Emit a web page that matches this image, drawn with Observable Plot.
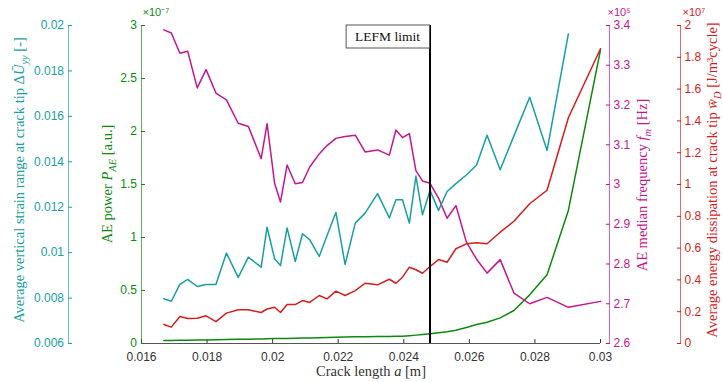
<!DOCTYPE html>
<html>
<head>
<meta charset="utf-8">
<script src="https://cdn.jsdelivr.net/npm/d3@7"></script>
<script src="https://cdn.jsdelivr.net/npm/@observablehq/plot@0.6"></script>
<style>
  html, body { margin: 0; padding: 0; background: #fff; }
  #chart { position: relative; width: 723px; height: 382px; }
  #chart svg { position: absolute; left: 0; top: 0; }
</style>
</head>
<body>
<div id="chart"></div>
<script>
// Crack length a [m] at each measurement
const crackLength = [0.01668, 0.01691, 0.01717, 0.01741, 0.01770, 0.01797, 0.01827, 0.01859, 0.01895, 0.01926,
  0.01965, 0.01983, 0.02006, 0.02024, 0.02044, 0.02069, 0.02091, 0.02113, 0.02142, 0.02166,
  0.02193, 0.02221, 0.02252, 0.02282, 0.02320, 0.02356, 0.02376, 0.02396, 0.02417, 0.02437,
  0.02457, 0.02480, 0.02506, 0.02532, 0.02559, 0.02591, 0.02622, 0.02654, 0.02694, 0.02736,
  0.02784, 0.02837, 0.02902, 0.03000];

// Average vertical strain range at crack tip [-]
const strainRange = [0.00797, 0.00786, 0.00860, 0.00882, 0.00851, 0.00860, 0.00860, 0.00998, 0.00891, 0.00980,
  0.00936, 0.01112, 0.00973, 0.00943, 0.01109, 0.00961, 0.01083, 0.01057, 0.00983, 0.01075,
  0.01177, 0.00948, 0.01130, 0.01174, 0.01260, 0.01153, 0.01233, 0.01233, 0.01130, 0.01337,
  0.01167, 0.01274, 0.01186, 0.01269, 0.01304, 0.01342, 0.01386, 0.01517, 0.01365, 0.01514,
  0.01684, 0.01450, 0.01963, null];

// AE power [a.u.], in units of 1e-7
const aePower = [0.028, 0.029, 0.030, 0.031, 0.032, 0.034, 0.035, 0.037, 0.039, 0.041,
  0.043, 0.044, 0.046, 0.047, 0.048, 0.050, 0.051, 0.053, 0.055, 0.057,
  0.059, 0.061, 0.063, 0.064, 0.066, 0.067, 0.068, 0.069, 0.074, 0.079,
  0.085, 0.092, 0.101, 0.110, 0.125, 0.151, 0.179, 0.201, 0.242, 0.311,
  0.459, 0.648, 1.255, 2.771];

// AE median frequency [Hz], in units of 1e5
const medianFreq = [3.389, 3.381, 3.330, 3.335, 3.243, 3.289, 3.230, 3.213, 3.154, 3.146,
  3.065, 3.153, 3.003, 2.956, 3.049, 3.002, 3.005, 3.044, 3.077, 3.098,
  3.116, 3.121, 3.124, 3.082, 3.087, 3.074, 3.137, 3.118, 3.128, 3.035,
  3.009, 3.003, 2.966, 2.915, 2.947, 2.855, 2.812, 2.777, 2.811, 2.727,
  2.700, 2.716, 2.691, 2.706];

// Average energy dissipation at crack tip [J/m^3 cycle], in units of 1e7
const energyDiss = [0.120, 0.103, 0.170, 0.157, 0.159, 0.174, 0.138, 0.191, 0.212, 0.212,
  0.195, 0.217, 0.228, 0.195, 0.245, 0.245, 0.270, 0.258, 0.302, 0.281,
  0.329, 0.302, 0.333, 0.379, 0.369, 0.404, 0.379, 0.417, 0.480, 0.464,
  0.442, 0.484, 0.528, 0.511, 0.596, 0.627, 0.633, 0.627, 0.700, 0.769,
  0.879, 0.964, 1.420, 1.854];

const xTicks = [0.016, 0.018, 0.02, 0.022, 0.024, 0.026, 0.028, 0.03];
const strainTicks = [0.006, 0.008, 0.01, 0.012, 0.014, 0.016, 0.018, 0.02];
const powerTicks = [0, 0.5, 1, 1.5, 2, 2.5, 3];
const freqTicks = [2.6, 2.7, 2.8, 2.9, 3, 3.1, 3.2, 3.3, 3.4];
const dissTicks = [0, 0.2, 0.4, 0.6, 0.8, 1, 1.2, 1.4, 1.6, 1.8, 2];

const lefmLimit = 0.0248;

const rows = crackLength.map((a, i) => ({
  a, strain: strainRange[i], power: aePower[i], freq: medianFreq[i], diss: energyDiss[i]
}));

const TEAL = "#17a0a0", GREEN = "#0d890d", MAGENTA = "#c7148f", RED = "#d61c1c";
const sans = "'Liberation Sans', Arial, sans-serif";
const serif = "'Liberation Serif', 'Times New Roman', serif";
const plain = (d) => `${d}`;

const frame = {width: 723, height: 382, marginLeft: 141, marginRight: 123, marginTop: 25, marginBottom: 39};
const xDomain = [0.016, 0.03];

function layer(yDomain, marks) {
  return Plot.plot({
    ...frame,
    x: {domain: xDomain, axis: null},
    y: {domain: yDomain, axis: null},
    style: {background: "transparent", fontFamily: sans, fontSize: "12px", overflow: "visible"},
    marks
  });
}

// axis on the left side of the frame, ticks pointing inward
function leftAxis(ticks, color, dx) {
  return [
    Plot.ruleX([xDomain[0]], {dx, stroke: color, strokeOpacity: 0.65}),
    Plot.axisY(ticks, {anchor: "left", dx, tickSize: -4, tickPadding: 8.5, color, label: null, tickFormat: plain})
  ];
}
function rightAxis(ticks, color, dx) {
  return [
    Plot.ruleX([xDomain[1]], {dx, stroke: color, strokeOpacity: 0.65}),
    Plot.axisY(ticks, {anchor: "right", dx, tickSize: -4, tickPadding: 8, color, label: null, tickFormat: plain})
  ];
}
// power-of-ten factor written above an axis
function multiplier(text, color, anchor, dx) {
  return Plot.text([text], {frameAnchor: anchor, dx, dy: -13, lineAnchor: "middle", textAnchor: "start",
    fill: color, fontSize: 11});
}

const base = Plot.plot({
  ...frame,
  x: {domain: xDomain},
  y: {domain: [0, 3], axis: null},
  style: {background: "white", fontFamily: sans, fontSize: "12px", overflow: "visible"},
  marks: [
    Plot.ruleY([0], {stroke: "#555"}),
    Plot.axisX(xTicks, {tickSize: -4, tickPadding: 13, color: "#333", label: null, tickFormat: plain}),
    ...leftAxis(powerTicks, GREEN, 0),
    multiplier("×10⁻⁷", GREEN, "top-left", 1),
    Plot.line(rows, {x: "a", y: "power", stroke: GREEN, strokeWidth: 1.5})
  ]
});

const freqLayer = layer([2.6, 3.4], [
  ...rightAxis(freqTicks, MAGENTA, 9),
  multiplier("×10⁵", MAGENTA, "top-right", 7),
  Plot.line(rows, {x: "a", y: "freq", stroke: MAGENTA, strokeWidth: 1.5})
]);

const strainLayer = layer([0.006, 0.02], [
  ...leftAxis(strainTicks, TEAL, -73),
  Plot.line(rows, {x: "a", y: "strain", stroke: TEAL, strokeWidth: 1.5})
]);

const dissLayer = layer([0, 2], [
  ...rightAxis(dissTicks, RED, 80),
  multiplier("×10⁷", RED, "top-right", 82),
  Plot.line(rows, {x: "a", y: "diss", stroke: RED, strokeWidth: 1.5}),
  Plot.ruleX([lefmLimit], {stroke: "black", strokeWidth: 2}),
  Plot.text(["LEFM limit"], {x: lefmLimit, frameAnchor: "top", dx: -10, dy: 11.5, lineAnchor: "middle",
    textAnchor: "end", fill: "#111", fontFamily: serif, fontSize: 13.5})
]);

const chart = document.getElementById("chart");
for (const svg of [base, freqLayer, strainLayer, dissLayer]) chart.appendChild(svg);

// frame round the LEFM label, closed by the limit line on its right
{
  const label = Array.from(dissLayer.querySelectorAll("text")).find(t => t.textContent === "LEFM limit");
  const b = label.getBBox();
  const m = label.getCTM();
  const left = b.x + (m ? m.e : 0) - 9;
  const lineX = frame.marginLeft + (lefmLimit - xDomain[0]) / (xDomain[1] - xDomain[0]) * (723 - frame.marginLeft - frame.marginRight);
  d3.select(label.closest("g").parentNode).insert("rect", () => label.closest("g"))
    .attr("x", left).attr("y", 25).attr("width", lineX - left).attr("height", 23)
    .attr("fill", "white").attr("stroke", "#555").attr("stroke-width", 1);
}

// axis titles with italic symbols and subscripts
function title(svg, x, y, rotate, color, parts) {
  const t = d3.select(svg).append("text")
    .attr("transform", `translate(${x},${y}) rotate(${rotate})`)
    .attr("text-anchor", "middle").attr("fill", color)
    .style("font-family", serif).style("font-size", "14.5px");
  let cur = 0;
  for (const [s, kind] of parts) {
    const ts = t.append("tspan").text(s);
    const target = kind === "sub" ? 3.5 : 0;
    if (kind === "i" || kind === "sub") ts.style("font-style", "italic");
    if (kind === "sub") ts.style("font-size", "10.5px");
    if (target !== cur) ts.attr("dy", target - cur);
    cur = target;
  }
}

title(base, 371, 376, 0, "#333", [["Crack length "], ["a", "i"], [" [m]"]]);
title(base, 24, 180, -90, TEAL, [["Average vertical strain range at crack tip Δ"], ["Ū", "i"], ["yy", "sub"], [" [-]"]]);
title(base, 112, 184, -90, GREEN, [["AE power "], ["P", "i"], ["AE", "sub"], [" [a.u.]"]]);
title(base, 647, 185, -90, MAGENTA, [["AE median frequency "], ["f", "i"], ["m", "sub"], [" [Hz]"]]);
title(base, 717, 180, -90, RED, [["Average energy dissipation at crack tip "], ["w̄", "i"], ["D", "sub"], [" [J/m³cycle]"]]);
</script>
</body>
</html>
